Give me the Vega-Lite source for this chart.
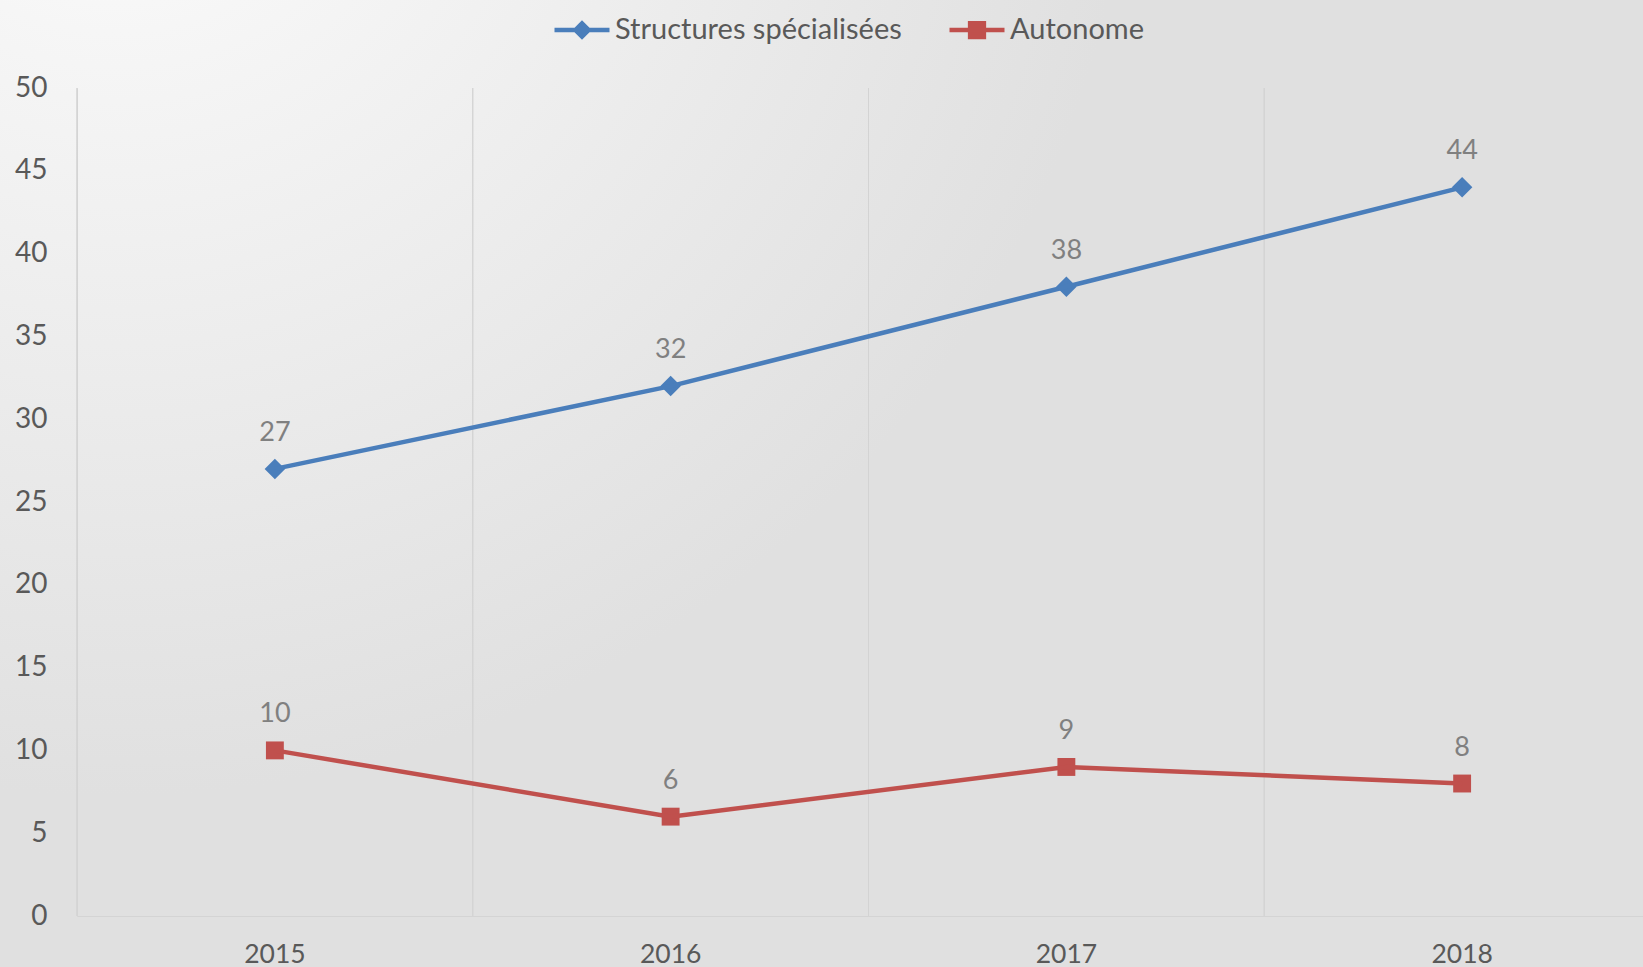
{
  "$schema": "https://vega.github.io/schema/vega-lite/v6.json",
  "width": 1643,
  "height": 967,
  "autosize": {"type": "none"},
  "padding": 0,
  "background": "#e0e0e0",
  "config": {
    "font": "Lato",
    "view": {
      "stroke": null,
      "fill": {
        "gradient": "radial",
        "x1": 0.07, "y1": 0.07, "r1": 0,
        "x2": 0.07, "y2": 0.07, "r2": 0.62,
        "stops": [
          {"offset": 0, "color": "#ffffff"},
          {"offset": 0.25, "color": "#f6f6f6"},
          {"offset": 1, "color": "#e0e0e0"}
        ]
      }
    },
    "legend": {
      "title": null,
      "orient": "none",
      "legendY": 0,
      "direction": "horizontal",
      "padding": 0,
      "symbolSize": 3025,
      "symbolStrokeWidth": 4.5,
      "symbolOpacity": 1,
      "labelFont": "Lato",
      "labelFontSize": 29,
      "labelColor": "#595959",
      "labelOffset": 3,
      "labelLimit": 600
    }
  },
  "data": {
    "values": [
      {"year": 2015, "series": "Structures spécialisées", "value": 27},
      {"year": 2016, "series": "Structures spécialisées", "value": 32},
      {"year": 2017, "series": "Structures spécialisées", "value": 38},
      {"year": 2018, "series": "Structures spécialisées", "value": 44},
      {"year": 2015, "series": "Autonome", "value": 10},
      {"year": 2016, "series": "Autonome", "value": 6},
      {"year": 2017, "series": "Autonome", "value": 9},
      {"year": 2018, "series": "Autonome", "value": 8}
    ]
  },
  "encoding": {
    "x": {
      "field": "year",
      "type": "ordinal",
      "scale": {"type": "band", "range": [77, 1660], "paddingInner": 0, "paddingOuter": 0},
      "axis": {
        "title": null,
        "grid": false,
        "ticks": false,
        "tickSize": 0,
        "labelAngle": 0,
        "labelPadding": 25,
        "labelFont": "Lato",
        "labelFontSize": 26.5,
        "labelColor": "#595959",
        "domainColor": "#d4d4d4",
        "domainWidth": 1,
        "offset": -51
      }
    },
    "y": {
      "field": "value",
      "type": "quantitative",
      "scale": {"domain": [0, 50], "range": [916, 88], "nice": false},
      "axis": {
        "title": null,
        "grid": false,
        "ticks": false,
        "tickSize": 0,
        "values": [0, 5, 10, 15, 20, 25, 30, 35, 40, 45, 50],
        "labelPadding": 30,
        "labelFont": "Lato",
        "labelFontSize": 28,
        "labelColor": "#595959",
        "domainColor": "#d4d4d4",
        "domainWidth": 1,
        "offset": -77
      }
    }
  },
  "resolve": {"scale": {"color": "independent"}, "legend": {"color": "independent"}},
  "layer": [
    {
      "mark": {"type": "rule", "color": "#d3d3d3", "strokeWidth": 1},
      "encoding": {
        "x": {"field": "year", "type": "ordinal", "bandPosition": 0},
        "y": {"datum": 0},
        "y2": {"datum": 50}
      }
    },
    {
      "transform": [{"filter": "datum.series === 'Structures spécialisées'"}],
      "encoding": {
        "color": {
          "field": "series",
          "type": "nominal",
          "scale": {"domain": ["Structures spécialisées"], "range": ["#4A7EBB"]},
          "legend": {
            "legendX": 552,
            "symbolType": "M-1,0L1,0M-0.24,0L0,-0.24L0.24,0L0,0.24Z",
            "symbolFillColor": "#4A7EBB",
            "symbolStrokeColor": "#4A7EBB"
          }
        }
      },
      "layer": [
        {"mark": {"type": "point", "filled": true, "opacity": 1, "shape": "diamond", "size": 420}},
        {"mark": {"type": "line", "strokeWidth": 4.5}},
        {
          "mark": {"type": "text", "dy": -28, "baseline": "alphabetic", "fontSize": 27, "color": "#808080", "font": "Lato"},
          "encoding": {"color": {"value": "#808080"}, "text": {"field": "value", "type": "quantitative"}}
        }
      ]
    },
    {
      "transform": [{"filter": "datum.series === 'Autonome'"}],
      "encoding": {
        "color": {
          "field": "series",
          "type": "nominal",
          "scale": {"domain": ["Autonome"], "range": ["#C0504D"]},
          "legend": {
            "legendX": 947,
            "symbolType": "M-1,0L1,0M-0.25,-0.25L0.25,-0.25L0.25,0.25L-0.25,0.25Z",
            "symbolFillColor": "#C0504D",
            "symbolStrokeColor": "#C0504D"
          }
        }
      },
      "layer": [
        {"mark": {"type": "point", "filled": true, "opacity": 1, "shape": "square", "size": 320}},
        {"mark": {"type": "line", "strokeWidth": 4.5}},
        {
          "mark": {"type": "text", "dy": -28, "baseline": "alphabetic", "fontSize": 27, "color": "#808080", "font": "Lato"},
          "encoding": {"color": {"value": "#808080"}, "text": {"field": "value", "type": "quantitative"}}
        }
      ]
    }
  ]
}
